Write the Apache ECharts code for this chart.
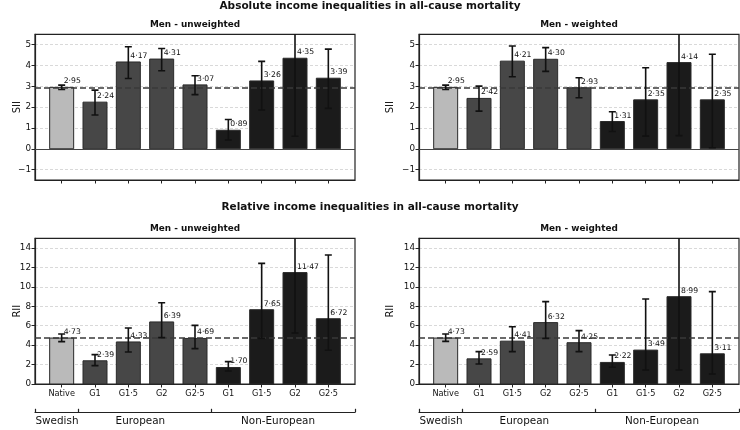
<!DOCTYPE html>
<html>
<head>
<meta charset="utf-8">
<script src="https://cdn.jsdelivr.net/npm/echarts@6/dist/echarts.min.js"></script>
<style>
  html, body { margin: 0; padding: 0; background: #fff; }
  #chart { width: 740px; height: 430px; }
</style>
</head>
<body>
<div id="chart"></div>
<script>
const categories = ['Native', 'G1', 'G1·5', 'G2', 'G2·5', 'G1', 'G1·5', 'G2', 'G2·5']
const catKind = [0, 1, 1, 1, 1, 2, 2, 2, 2] // 0 Swedish, 1 European, 2 Non-European
const groups = ['Swedish', 'European', 'Non-European']
const groupLabelPos = [-0.14, 2.36, 6.49]
const groupBounds = [-0.8, 0.5, 4.5, 8.8]

const siiTicks = [-1, 0, 1, 2, 3, 4, 5]
const riiTicks = [0, 2, 4, 6, 8, 10, 12, 14]

// SII, men, unweighted
const siiUnw = [2.95, 2.24, 4.17, 4.31, 3.07, 0.89, 3.26, 4.35, 3.39]
const siiUnwLow = [2.85, 1.62, 3.38, 3.75, 2.60, 0.42, 1.86, 0.60, 1.94]
const siiUnwHigh = [3.06, 2.82, 4.90, 4.82, 3.51, 1.41, 4.20, 8.10, 4.79]
// SII, men, weighted
const siiW = [2.95, 2.42, 4.21, 4.30, 2.93, 1.31, 2.35, 4.14, 2.35]
const siiWLow = [2.85, 1.81, 3.46, 3.72, 2.45, 0.83, 0.61, 0.63, 0.05]
const siiWHigh = [3.06, 3.01, 4.94, 4.86, 3.41, 1.78, 3.89, 7.65, 4.54]
// RII, men, unweighted
const riiUnw = [4.73, 2.39, 4.33, 6.39, 4.69, 1.70, 7.65, 11.47, 6.72]
const riiUnwLow = [4.36, 1.89, 3.29, 4.77, 3.64, 1.34, 4.70, 5.25, 3.47]
const riiUnwHigh = [5.15, 3.02, 5.77, 8.37, 6.04, 2.30, 12.42, 25.0, 13.28]
// RII, men, weighted
const riiW = [4.73, 2.59, 4.41, 6.32, 4.25, 2.22, 3.49, 8.99, 3.11]
const riiWLow = [4.39, 2.06, 3.33, 4.70, 3.33, 1.72, 1.44, 1.44, 1.03]
const riiWHigh = [5.15, 3.33, 5.90, 8.48, 5.49, 2.99, 8.75, 56.0, 9.51]

const FONT = 'DejaVu Sans'
const kindColors = ['#bababa', '#474747', '#1b1b1b']
const fmt = v => v.toFixed(2).replace('.', '·')
const tickFmt = v => v < 0 ? '−' + Math.abs(v) : String(v)

const panels = [
  { vals: siiUnw, low: siiUnwLow, high: siiUnwHigh, ticks: siiTicks, min: -1.5, max: 5.5, name: 'SII', nameGap: 13, left: 35, top: 34.3, cats: false, zero: true },
  { vals: siiW, low: siiWLow, high: siiWHigh, ticks: siiTicks, min: -1.5, max: 5.5, name: 'SII', nameGap: 24, left: 419, top: 34.3, cats: false, zero: true },
  { vals: riiUnw, low: riiUnwLow, high: riiUnwHigh, ticks: riiTicks, min: 0, max: 15, name: 'RII', nameGap: 13, left: 35, top: 238.3, cats: true, zero: false },
  { vals: riiW, low: riiWLow, high: riiWHigh, ticks: riiTicks, min: 0, max: 15, name: 'RII', nameGap: 24, left: 419, top: 238.3, cats: true, zero: false }
]

function renderBar(params, api) {
  const i = api.value(0)
  const v = api.value(1)
  const p = api.coord([i, v])
  const base = api.coord([i, 0])
  const w = api.size([0.72, 0])[0]
  return {
    type: 'group',
    children: [
      {
        type: 'rect',
        shape: { x: p[0] - w / 2, y: Math.min(p[1], base[1]), width: w, height: Math.abs(base[1] - p[1]) },
        style: { fill: kindColors[catKind[i]], stroke: '#2a2a2a', lineWidth: 1 }
      },
      {
        type: 'text',
        z2: 10,
        style: {
          text: fmt(v), x: p[0] + 2, y: p[1] - 6,
          verticalAlign: 'middle', align: 'left',
          fontSize: 7.7, fontFamily: FONT, fill: '#111'
        }
      }
    ]
  }
}

function renderErr(params, api) {
  const i = api.value(0)
  const lo = api.coord([i, api.value(1)])
  const hi = api.coord([i, api.value(2)])
  const c = 3.5
  const st = { stroke: '#111', lineWidth: 1.6 }
  return {
    type: 'group',
    children: [
      { type: 'line', shape: { x1: lo[0], y1: lo[1], x2: hi[0], y2: hi[1] }, style: st },
      { type: 'line', shape: { x1: lo[0] - c, y1: lo[1], x2: lo[0] + c, y2: lo[1] }, style: st },
      { type: 'line', shape: { x1: hi[0] - c, y1: hi[1], x2: hi[0] + c, y2: hi[1] }, style: st }
    ]
  }
}

const grid = []
const xAxis = []
const yAxis = []
const series = []

panels.forEach((pn, k) => {
  grid.push({ left: pn.left, top: pn.top, width: 320, height: 145.7, show: true, borderColor: '#222', borderWidth: 1.2, backgroundColor: 'transparent' })
  const xi = xAxis.length
  xAxis.push({
    type: 'value', gridIndex: k, min: -0.8, max: 8.8, position: 'bottom',
    axisLine: { show: true, onZero: false, lineStyle: { color: '#222', width: 1.2 } },
    axisTick: { show: true, length: 3.5, customValues: categories.map((c, i) => i), lineStyle: { color: '#222' } },
    axisLabel: {
      show: pn.cats, customValues: categories.map((c, i) => i), margin: 6,
      formatter: v => categories[Math.round(v)], fontSize: 8.2, fontFamily: FONT, color: '#111'
    },
    splitLine: { show: false }
  })
  if (pn.cats) {
    xAxis.push({
      type: 'value', gridIndex: k, min: -0.8, max: 8.8, position: 'bottom', offset: 28.3,
      axisLine: { show: true, onZero: false, lineStyle: { color: '#222', width: 1.2 } },
      axisTick: { show: true, inside: true, length: 3.5, customValues: groupBounds, lineStyle: { color: '#222', width: 1.2 } },
      axisLabel: {
        show: true, customValues: groupLabelPos, margin: 3.5,
        formatter: v => groups[groupLabelPos.indexOf(v)], fontSize: 10.4, fontFamily: FONT, color: '#111'
      },
      splitLine: { show: false }
    })
  }
  yAxis.push({
    type: 'value', gridIndex: k, min: pn.min, max: pn.max, position: 'left',
    name: pn.name, nameLocation: 'middle', nameGap: pn.nameGap, nameMoveOverlap: false,
    nameTextStyle: { fontSize: 10, fontFamily: FONT, color: '#111' },
    axisLine: { show: true, onZero: false, lineStyle: { color: '#222', width: 1.2 } },
    axisTick: { show: true, length: 3.5, customValues: pn.ticks, lineStyle: { color: '#222' } },
    axisLabel: { customValues: pn.ticks, formatter: tickFmt, fontSize: 8.8, fontFamily: FONT, color: '#111', margin: 4 },
    splitLine: { show: true, lineStyle: { color: '#cfcfcf', type: [3, 2], width: 0.8 } }
  })
  const markData = []
  if (pn.zero) markData.push({ yAxis: 0, lineStyle: { type: 'solid', color: '#444', width: 1 } })
  markData.push({ yAxis: pn.vals[0], lineStyle: { type: [6, 3], color: '#3a3a3a', width: 1.5 } })
  series.push({
    type: 'custom', xAxisIndex: xi, yAxisIndex: k,
    renderItem: renderBar,
    data: pn.vals.map((v, i) => [i, v]),
    z: 2,
    markLine: { silent: true, symbol: 'none', label: { show: false }, z: 3, data: markData }
  })
  series.push({
    type: 'custom', xAxisIndex: xi, yAxisIndex: k, clip: true,
    renderItem: renderErr,
    data: pn.vals.map((v, i) => [i, pn.low[i], pn.high[i]]),
    z: 4
  })
})

const titleBase = { padding: 0, textAlign: 'center' }
const mainStyle = { fontSize: 10.5, fontWeight: 'bold', fontFamily: FONT, color: '#111' }
const subStyle = { fontSize: 8.9, fontWeight: 'bold', fontFamily: FONT, color: '#111' }

const chart = echarts.init(document.getElementById('chart'), null, { renderer: 'canvas' })
chart.setOption({
  animation: false,
  backgroundColor: '#fff',
  title: [
    { ...titleBase, text: 'Absolute income inequalities in all-cause mortality', left: 370, top: 1, textStyle: mainStyle },
    { ...titleBase, text: 'Men - unweighted', left: 195, top: 19.8, textStyle: subStyle },
    { ...titleBase, text: 'Men - weighted', left: 579, top: 19.8, textStyle: subStyle },
    { ...titleBase, text: 'Relative income inequalities in all-cause mortality', left: 370, top: 202, textStyle: mainStyle },
    { ...titleBase, text: 'Men - unweighted', left: 195, top: 224, textStyle: subStyle },
    { ...titleBase, text: 'Men - weighted', left: 579, top: 224, textStyle: subStyle }
  ],
  grid,
  xAxis,
  yAxis,
  series
})
</script>
</body>
</html>
